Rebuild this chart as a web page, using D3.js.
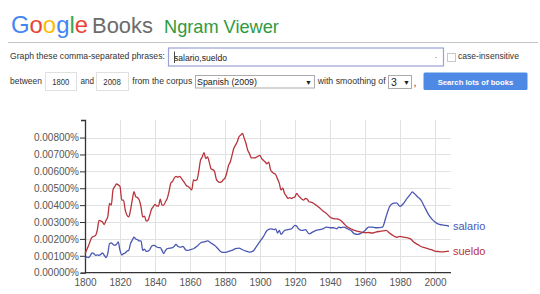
<!DOCTYPE html>
<html>
<head>
<meta charset="utf-8">
<script src="https://cdn.jsdelivr.net/npm/d3@7"></script>
<style>
  body { margin: 0; background: #fff; }
  svg { display: block; font-family: "Liberation Sans", Arial, sans-serif; }
</style>
</head>
<body>
<div id="div1"></div>
<script>
// values are in units of 0.001 %
var sueldo_years = [1800,1802,1804,1806,1807,1808,1810,1811,1812,1813,1814,1815,1816,1817,1818,1819,1820,1821,1822,1823,1824,1825,1826,1827,1828,1829,1830,1831,1832,1833,1834,1835,1836,1837,1838,1839,1840,1841,1842,1843,1844,1845,1846,1847,1848,1849,1850,1851,1852,1853,1854,1855,1856,1857,1858,1859,1860,1861,1862,1863,1864,1865,1866,1867,1868,1869,1870,1871,1872,1873,1874,1875,1876,1877,1878,1879,1880,1881,1882,1883,1884,1885,1886,1887,1888,1889,1890,1891,1892,1893,1894,1895,1896,1897,1898,1899,1900,1901,1902,1903,1904,1905,1906,1907,1908,1909,1910,1911,1912,1913,1914,1915,1916,1917,1918,1919,1920,1921,1922,1923,1924,1925,1926,1927,1928,1930,1932,1934,1936,1938,1940,1942,1944,1946,1948,1950,1952,1954,1956,1958,1960,1962,1964,1966,1968,1970,1972,1974,1976,1978,1980,1982,1984,1986,1988,1990,1992,1994,1996,1998,2000,2002,2004,2006,2008];
var sueldo_values = [1.13,1.6,2.1,2.2,2.5,3.1,3.0,2.85,3.1,3.3,4.1,4.0,4.9,5.1,5.25,5.2,5.1,4.3,4.3,3.7,3.4,3.3,3.7,4.3,4.8,4.5,4.45,4.3,3.9,3.3,3.35,3.05,3.1,3.4,3.75,3.9,4.05,3.95,3.95,4.35,4.0,4.0,4.2,4.4,4.8,5.3,5.4,5.6,5.7,5.65,5.7,5.6,5.45,5.3,5.15,5.1,5.0,4.9,5.5,5.45,5.5,6.0,6.65,6.85,7.1,6.75,6.85,6.55,6.15,6.1,6.0,5.55,5.4,5.35,5.38,5.5,5.6,5.9,6.35,6.55,6.95,7.35,7.55,7.75,8.05,8.15,8.25,7.95,7.65,7.25,7.05,6.8,6.8,6.8,6.85,6.9,6.95,6.75,6.65,6.55,6.45,6.55,6.1,5.95,5.88,5.8,5.55,5.3,4.9,5.0,4.7,4.55,4.4,4.45,4.4,4.45,4.5,4.7,4.55,4.45,4.35,4.3,4.4,4.35,4.2,4.15,4.0,3.85,3.65,3.5,3.3,3.2,3.18,3.1,2.9,2.7,2.6,2.5,2.45,2.4,2.37,2.38,2.35,2.4,2.44,2.47,2.5,2.35,2.2,2.1,2.15,2.1,2.07,2.0,1.8,1.68,1.55,1.48,1.42,1.36,1.28,1.25,1.23,1.25,1.28];

var salario_years = [1800,1801,1802,1803,1804,1805,1806,1807,1808,1809,1810,1811,1812,1813,1814,1815,1816,1817,1818,1819,1820,1821,1822,1823,1824,1825,1826,1827,1828,1829,1830,1831,1832,1833,1834,1835,1836,1837,1838,1839,1840,1841,1842,1843,1844,1845,1846,1847,1848,1849,1850,1851,1852,1853,1854,1855,1856,1857,1858,1859,1860,1862,1864,1866,1868,1870,1872,1874,1876,1878,1880,1882,1884,1886,1888,1890,1892,1894,1896,1898,1900,1902,1904,1906,1908,1909,1910,1911,1912,1914,1916,1918,1920,1921,1922,1924,1926,1928,1930,1932,1934,1936,1938,1940,1942,1944,1945,1946,1948,1950,1952,1954,1956,1958,1960,1962,1964,1966,1968,1970,1972,1974,1976,1978,1980,1982,1984,1986,1987,1988,1990,1992,1994,1996,1998,2000,2002,2004,2006,2008];
var salario_values = [0.83,0.93,0.9,1.0,1.17,1.13,1.03,1.05,1.03,1.08,1.17,1.03,0.9,1.13,1.72,1.76,1.68,1.62,1.68,1.82,1.32,1.05,1.13,1.17,1.28,1.32,1.72,1.92,2.1,2.0,1.96,1.88,1.88,1.32,1.4,1.26,1.28,1.36,1.56,1.62,1.6,1.52,1.48,1.48,1.32,1.13,1.32,1.42,1.44,1.46,1.48,1.56,1.68,1.56,1.52,1.52,1.56,1.42,1.32,1.32,1.36,1.42,1.56,1.76,1.82,1.88,1.76,1.62,1.42,1.22,1.2,1.26,1.32,1.42,1.46,1.36,1.28,1.22,1.28,1.56,1.85,2.15,2.5,2.6,2.55,2.6,2.35,2.5,2.27,2.5,2.55,2.6,2.8,2.75,2.6,2.5,2.55,2.3,2.4,2.5,2.55,2.6,2.7,2.66,2.66,2.6,2.7,2.66,2.7,2.6,2.5,2.3,2.27,2.35,2.5,2.7,2.7,2.66,2.67,2.7,3.3,3.9,4.1,4.13,3.93,4.1,4.4,4.65,4.78,4.7,4.5,4.3,3.9,3.5,3.2,3.0,2.87,2.83,2.8,2.75];

var x_ticks = [1800,1820,1840,1860,1880,1900,1920,1940,1960,1980,2000];
var y_ticks = [0,1,2,3,4,5,6,7,8];
var series_names = ["salario","sueldo"];
var series_colors = ["#4a58b3","#b8343c"];

const width = 540, height = 294;

const svg = d3.select("#div1")
  .append("svg")
    .attr("width", width)
    .attr("height", height);

// shrink / grow a text so its width matches what the screenshot shows
function fit(sel, w){
  var len = sel.node().getComputedTextLength();
  var fs = +sel.attr("font-size");
  sel.attr("font-size", (fs * w / len).toFixed(2));
  return sel;
}

function label(x0, y0, txt, w, fill){
  var t = svg.append("text").attr("x", x0).attr("y", y0)
    .attr("font-size", 10).attr("fill", fill || "#333").text(txt);
  return fit(t, w);
}

// ---------- header ----------
var logo = svg.append("text")
  .attr("x", 11).attr("y", 33)
  .attr("font-size", 29);
var logo_letters = ["G","o","o","g","l","e"];
var logo_colors = ["#4285F4","#EA4335","#FBBC05","#4285F4","#34A853","#EA4335"];
logo_letters.forEach(function(l, i){
  logo.append("tspan").attr("fill", logo_colors[i]).text(l);
});
fit(logo, 77);
fit(svg.append("text").attr("x", 92).attr("y", 33).attr("font-size", 24)
  .attr("fill", "#6b6b6b").text("Books"), 61);
fit(svg.append("text").attr("x", 164).attr("y", 32.5).attr("font-size", 20)
  .attr("fill", "#2f9a3e").text("Ngram Viewer"), 115);

svg.append("line")
  .attr("x1", 8).attr("x2", 538).attr("y1", 42.5).attr("y2", 42.5)
  .attr("stroke", "#c4c4c4").attr("stroke-width", 1.2);

// row 1
label(10, 59, "Graph these comma-separated phrases:", 155);
svg.append("rect").attr("x", 168.5).attr("y", 48).attr("width", 275).attr("height", 18)
  .attr("fill", "#fff").attr("stroke", "#9aa2d8").attr("stroke-width", 1.2);
label(174, 61, "salario,sueldo", 53, "#222");
svg.append("line").attr("x1", 174.5).attr("x2", 174.5).attr("y1", 51.5).attr("y2", 63)
  .attr("stroke", "#222").attr("stroke-width", 0.8);
svg.append("line").attr("x1", 435).attr("x2", 437).attr("y1", 57.5).attr("y2", 57.5)
  .attr("stroke", "#bbb");
svg.append("rect").attr("x", 447.5).attr("y", 53.5).attr("width", 8).attr("height", 8)
  .attr("fill", "#fff").attr("stroke", "#c8c8c8");
label(458, 59, "case-insensitive", 61);

// row 2
label(10, 84, "between", 32);
svg.append("rect").attr("x", 45.5).attr("y", 72.5).attr("width", 31).attr("height", 18)
  .attr("fill", "#fff").attr("stroke", "#e0e0e0");
svg.append("text").attr("x", 52.3).attr("y", 85).attr("font-size", 9)
  .attr("textLength", 17).attr("lengthAdjust", "spacingAndGlyphs")
  .attr("fill", "#333").text("1800");
label(80.5, 84, "and", 13.6);
svg.append("rect").attr("x", 96.5).attr("y", 72.5).attr("width", 32).attr("height", 18)
  .attr("fill", "#fff").attr("stroke", "#e0e0e0");
svg.append("text").attr("x", 103.3).attr("y", 85).attr("font-size", 9)
  .attr("textLength", 17.5).attr("lengthAdjust", "spacingAndGlyphs")
  .attr("fill", "#333").text("2008");
label(132.3, 84, "from the corpus", 60);
svg.append("rect").attr("x", 195.5).attr("y", 75.5).attr("width", 119).attr("height", 12.5)
  .attr("fill", "#fff").attr("stroke", "#aaa");
label(197, 85, "Spanish (2009)", 60, "#222");
svg.append("text").attr("x", 305).attr("y", 84.5).attr("font-size", 7)
  .attr("fill", "#222").text("▼");
label(317.7, 84, "with smoothing of", 68);
svg.append("rect").attr("x", 388.5).attr("y", 75.5).attr("width", 23).attr("height", 13)
  .attr("fill", "#fff").attr("stroke", "#aaa");
svg.append("text").attr("x", 391).attr("y", 85.5).attr("font-size", 10.5)
  .attr("fill", "#222").text("3");
svg.append("text").attr("x", 403).attr("y", 84.5).attr("font-size", 7)
  .attr("fill", "#222").text("▼");
svg.append("text").attr("x", 413.5).attr("y", 86).attr("font-size", 10)
  .attr("fill", "#333").text(",");
svg.append("rect").attr("x", 423.5).attr("y", 72.5).attr("width", 104).attr("height", 17.5)
  .attr("rx", 1.5).attr("fill", "#4f89e6");
fit(svg.append("text").attr("x", 437.7).attr("y", 84.5).attr("font-size", 10)
  .attr("font-weight", "bold")
  .attr("fill", "#fff").text("Search lots of books"), 75.6);

// ---------- chart ----------
const x = d3.scaleLinear()
  .domain([1800, 2008])
  .range([85, 449]);

const y = d3.scaleLinear()
  .domain([0, 9.04])
  .range([272.7, 120]);

// grid
svg.append("g")
  .selectAll("line")
  .data(y_ticks.slice(1))
  .join("line")
    .attr("x1", x(1800)).attr("x2", x(2008) + 2)
    .attr("y1", d => Math.round(y(d)) + 0.5).attr("y2", d => Math.round(y(d)) + 0.5)
    .attr("stroke", "#e2e2e2");
svg.append("g")
  .selectAll("line")
  .data(x_ticks.slice(1))
  .join("line")
    .attr("x1", d => Math.round(x(d)) + 0.5).attr("x2", d => Math.round(x(d)) + 0.5)
    .attr("y1", y.range()[1]).attr("y2", y(0))
    .attr("stroke", "#e2e2e2");

// axes
const yAxis = svg.append("g")
  .attr("transform", "translate(85,0)")
  .call(d3.axisLeft(y).tickValues(y_ticks).tickSize(5).tickSizeOuter(4)
    .tickFormat(d => (d / 1000).toFixed(5) + "%"));
yAxis.selectAll("text").attr("font-size", 10).attr("fill", "#555")
  .attr("x", -6)
  .attr("font-family", "Liberation Sans, Arial, sans-serif");
yAxis.selectAll("line").attr("stroke", "#333");
yAxis.select(".domain").attr("stroke", "#333").attr("stroke-width", 1.3);

const xAxis = svg.append("g")
  .attr("transform", `translate(0,${y(0)})`)
  .call(d3.axisBottom(x).tickValues(x_ticks).tickSize(0).tickSizeOuter(0)
    .tickFormat(d3.format("d")));
xAxis.selectAll("text").attr("font-size", 10).attr("fill", "#555")
  .attr("dy", "1.05em")
  .attr("font-family", "Liberation Sans, Arial, sans-serif");
xAxis.select(".domain").attr("stroke", "#333").attr("stroke-width", 1.3)
  .attr("d", `M85,0H${x(2008) + 2}`);

// lines
const line = d3.line()
  .x(d => x(d[0]))
  .y(d => y(d[1]))
  .curve(d3.curveMonotoneX);

var all_years = [salario_years, sueldo_years];
var all_values = [salario_values, sueldo_values];

series_names.forEach(function(name, i){
  var pts = all_years[i].map((yr, j) => [yr, all_values[i][j]]);
  svg.append("path")
    .datum(pts)
    .attr("fill", "none")
    .attr("stroke", series_colors[i])
    .attr("stroke-width", 1.3)
    .attr("d", line);
  var last = pts[pts.length - 1];
  svg.append("text")
    .attr("x", x(last[0]) + 4)
    .attr("y", y(last[1]) + 4)
    .attr("font-size", 11)
    .attr("fill", series_colors[i])
    .text(name);
});
</script>
</body>
</html>
